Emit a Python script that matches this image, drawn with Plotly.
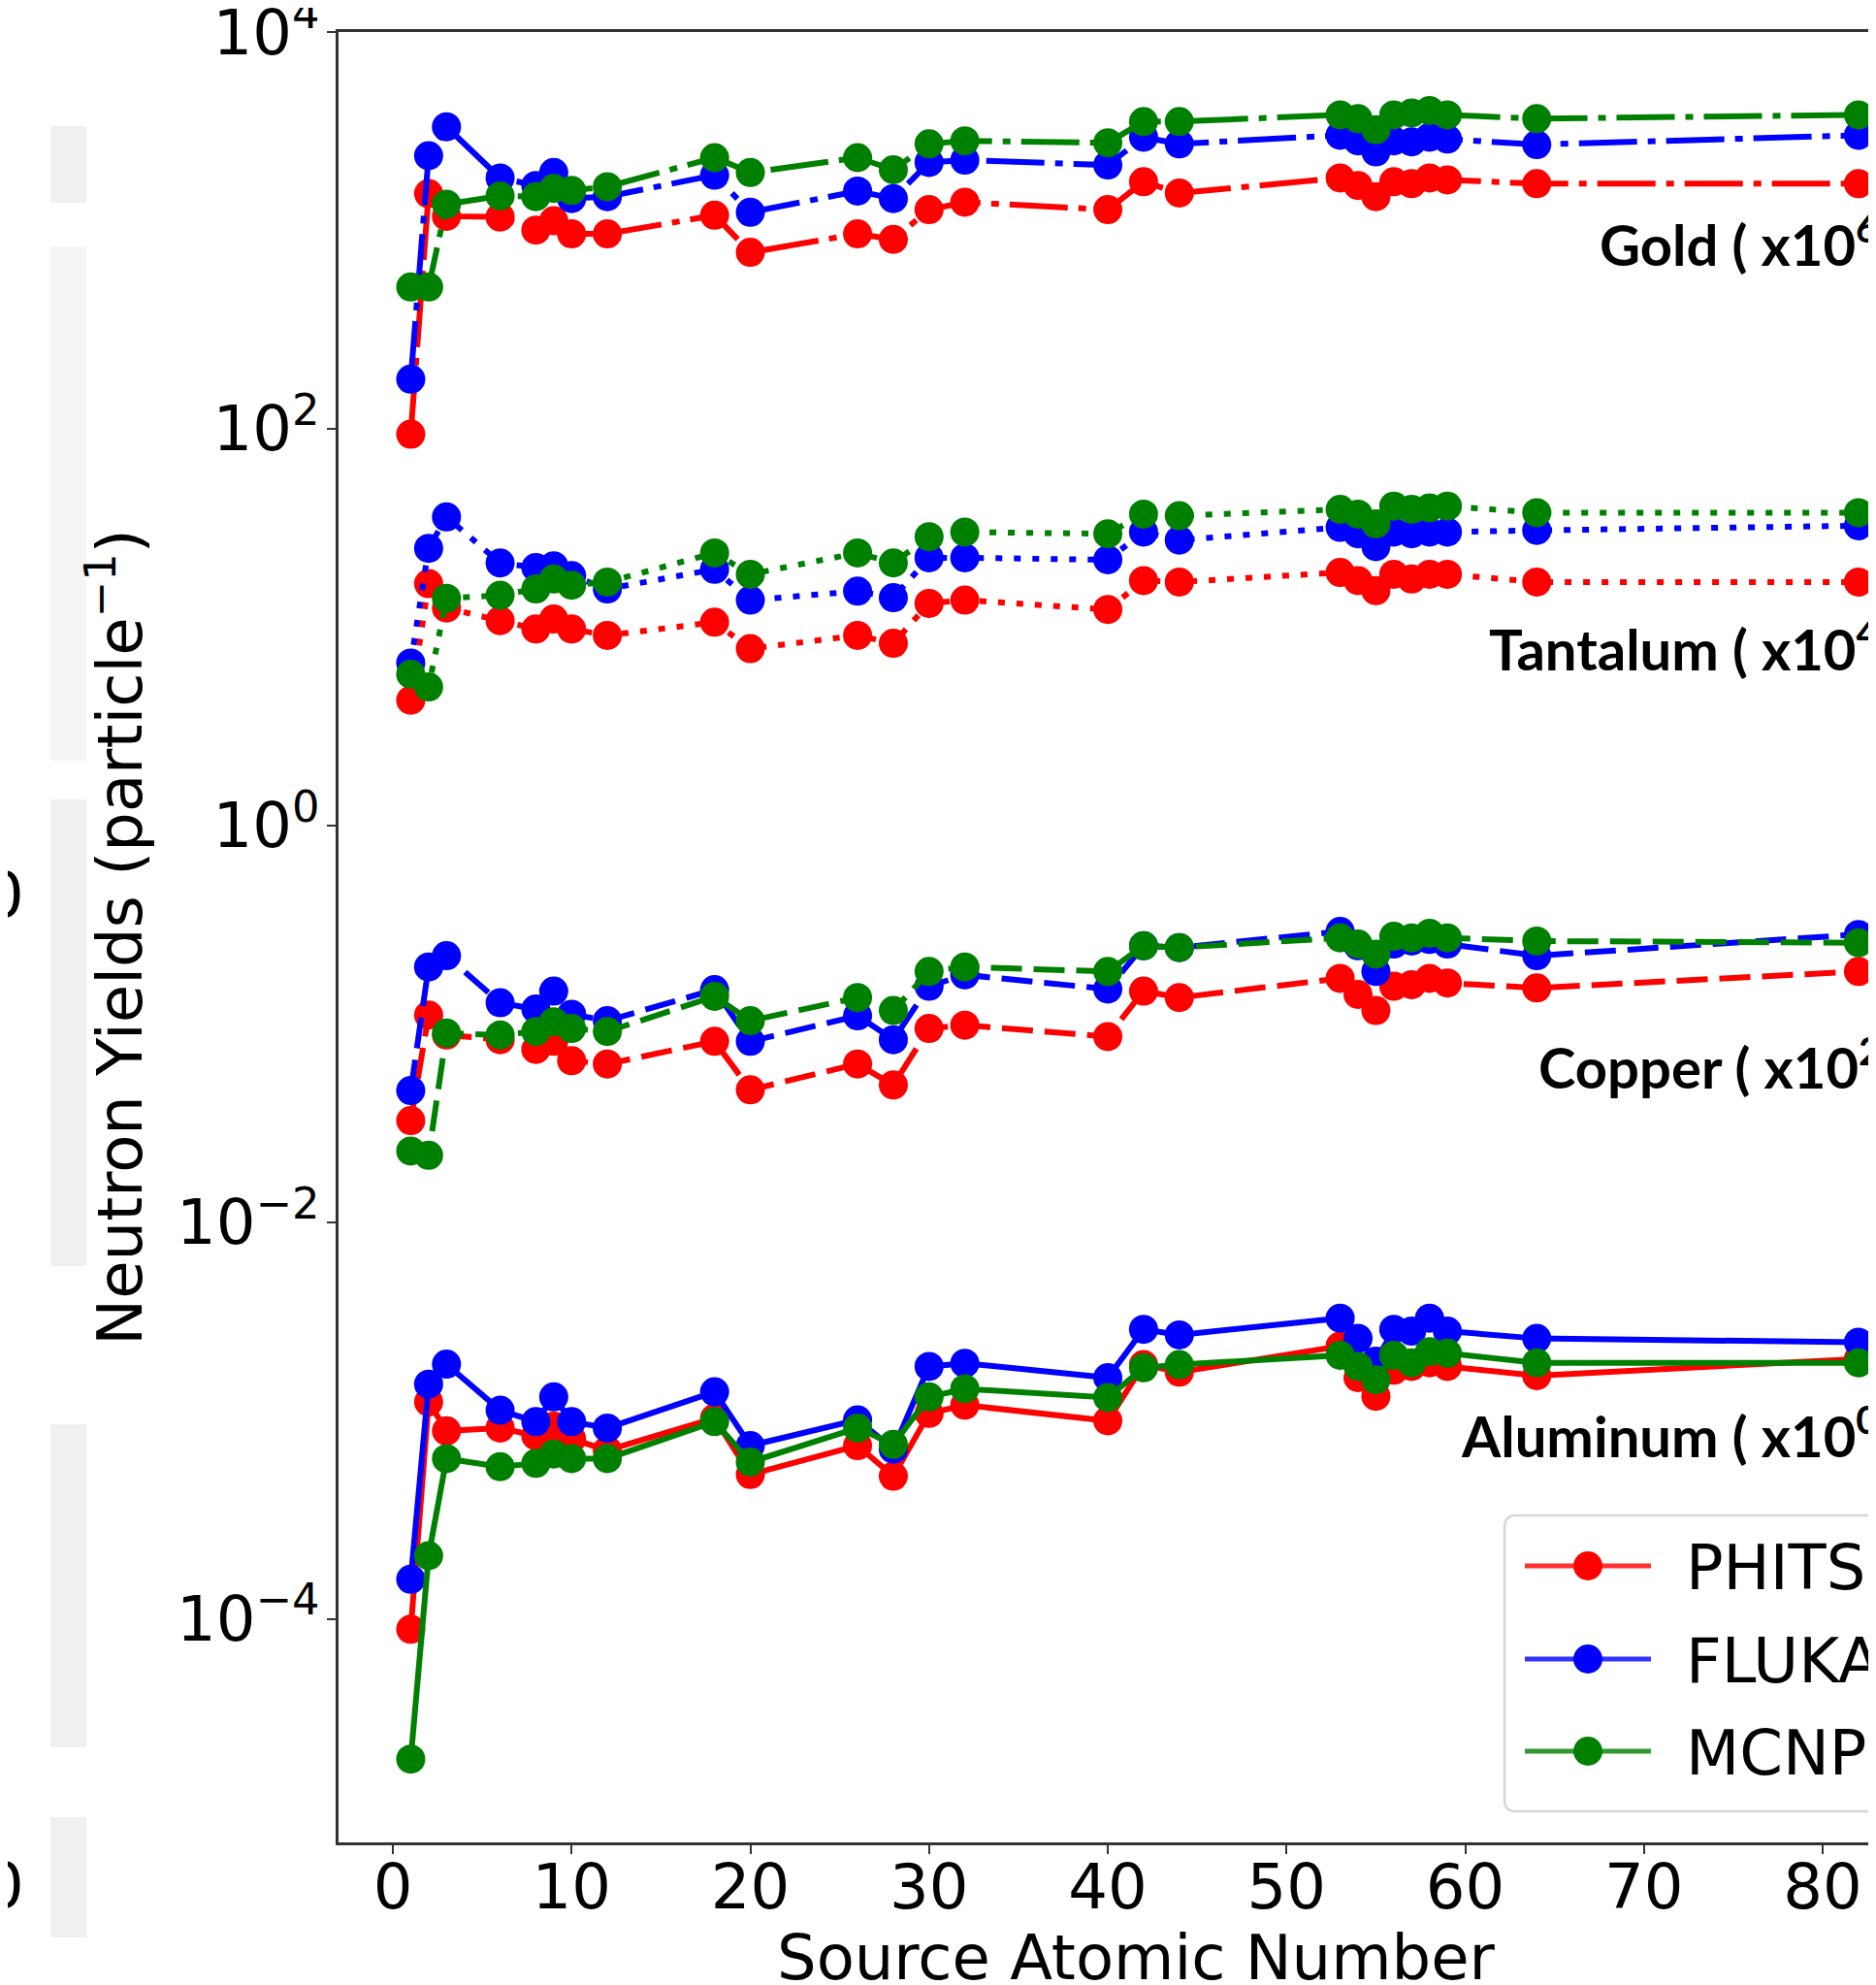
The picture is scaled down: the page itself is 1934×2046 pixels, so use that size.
import plotly.graph_objects as go

# ---------------- data (values as plotted, already scaled per material) ----------------
Z = [1, 2, 3, 6, 8, 9, 10, 12, 18, 20, 26, 28, 30, 32, 40, 42, 44, 53, 54, 55, 56, 57, 58, 59, 64, 82]

gold_phits = [94, 1535, 1180, 1170, 1005, 1119, 962, 962, 1194, 776, 962, 902, 1274, 1388, 1274, 1761, 1546,
              1840, 1687, 1482, 1761, 1722, 1840, 1800, 1722, 1722]
gold_fluka = [178, 2382, 3334, 1840, 1687, 1960, 1449, 1482, 1900, 1236, 1580, 1449, 2203, 2263, 2138, 2951, 2733,
              3020, 2831, 2489, 2831, 2800, 2951, 2890, 2710, 3020]
gold_mcnp = [519, 519, 1358, 1494, 1482, 1629, 1592, 1663, 2329, 1960, 2329, 2023, 2733, 2831, 2768, 3540, 3540,
             3827, 3664, 3222, 3827, 3910, 4027, 3827, 3664, 3827]

tantalum_phits = [4.29, 16.6, 12.5, 10.8, 9.8, 11.0, 9.8, 9.1, 10.6, 7.8, 9.1, 8.3, 13.2, 13.7, 12.3, 17.2, 16.9,
                  18.9, 17.2, 15.3, 18.5, 17.5, 18.5, 18.5, 16.9, 16.9]
tantalum_fluka = [6.6, 25.0, 36.0, 21.1, 20.0, 20.4, 18.2, 15.6, 19.6, 13.7, 15.2, 14.1, 22.4, 22.4, 21.9, 30.2, 27.5,
                  31.9, 29.6, 25.5, 30.2, 29.6, 30.2, 30.2, 30.8, 32.5]
tantalum_mcnp = [5.8, 5.0, 14.0, 14.5, 15.6, 17.5, 16.3, 16.9, 23.7, 18.5, 23.7, 21.1, 28.6, 30.2, 29.6, 37.2, 36.5,
                 39.3, 37.2, 33.2, 40.8, 39.3, 40.0, 40.8, 37.8, 37.8]

copper_phits = [0.0326, 0.111, 0.088, 0.0834, 0.0745, 0.0818, 0.0653, 0.0629, 0.0818, 0.0466, 0.0629, 0.0493, 0.095,
                0.0987, 0.0865, 0.1466, 0.136, 0.170, 0.141, 0.117, 0.155, 0.158, 0.170, 0.161, 0.152, 0.184]
copper_fluka = [0.0462, 0.194, 0.221, 0.128, 0.119, 0.1466, 0.112, 0.104, 0.149, 0.0818, 0.110, 0.0834, 0.155,
                0.177, 0.150, 0.248, 0.243, 0.293, 0.248, 0.184, 0.253, 0.262, 0.267, 0.253, 0.221, 0.283]
copper_mcnp = [0.0229, 0.0218, 0.090, 0.088, 0.0917, 0.1026, 0.095, 0.0917, 0.138, 0.104, 0.136, 0.117, 0.184,
               0.194, 0.184, 0.248, 0.243, 0.272, 0.253, 0.225, 0.277, 0.272, 0.287, 0.272, 0.262, 0.257]

aluminum_phits = [8.9e-5, 1.245e-3, 8.9e-4, 9.2e-4, 8.4e-4, 9.4e-4, 8.1e-4, 7.1e-4, 1.03e-3, 5.36e-4, 7.5e-4,
                  5.26e-4, 1.09e-3, 1.2e-3, 1.0e-3, 1.92e-3, 1.76e-3, 2.38e-3, 1.65e-3, 1.33e-3, 1.80e-3, 1.88e-3,
                  1.96e-3, 1.88e-3, 1.69e-3, 2.05e-3]
aluminum_fluka = [1.59e-4, 1.53e-3, 1.93e-3, 1.13e-3, 9.9e-4, 1.32e-3, 9.9e-4, 9.2e-4, 1.40e-3, 7.5e-4, 1.01e-3,
                  7.2e-4, 1.88e-3, 1.95e-3, 1.65e-3, 2.89e-3, 2.71e-3, 3.29e-3, 2.6e-3, 2.0e-3, 2.89e-3, 2.83e-3,
                  3.29e-3, 2.83e-3, 2.6e-3, 2.49e-3]
aluminum_mcnp = [1.97e-5, 2.09e-4, 6.45e-4, 5.87e-4, 6.1e-4, 6.8e-4, 6.45e-4, 6.45e-4, 9.9e-4, 6.2e-4, 9.2e-4,
                 7.6e-4, 1.32e-3, 1.45e-3, 1.31e-3, 1.85e-3, 1.92e-3, 2.14e-3, 1.88e-3, 1.61e-3, 2.14e-3, 1.96e-3,
                 2.23e-3, 2.19e-3, 1.96e-3, 1.96e-3]

codes = ["PHITS", "FLUKA", "MCNP"]
materials = ["Gold", "Tantalum", "Copper", "Aluminum"]
material_labels = ["Gold ( x10<sup>6</sup> )", "Tantalum ( x10<sup>4</sup> )",
                   "Copper ( x10<sup>2</sup> )", "Aluminum ( x10<sup>0</sup> )"]
series = {
    "Gold": [gold_phits, gold_fluka, gold_mcnp],
    "Tantalum": [tantalum_phits, tantalum_fluka, tantalum_mcnp],
    "Copper": [copper_phits, copper_fluka, copper_mcnp],
    "Aluminum": [aluminum_phits, aluminum_fluka, aluminum_mcnp],
}
x_ticks = [0, 10, 20, 30, 40, 50, 60, 70, 80]
y_ticks = [1e-4, 1e-2, 1e0, 1e2, 1e4]
y_ticktext = ["10<sup>\u22124</sup>", "10<sup>\u22122</sup>", "10<sup>0</sup>", "10<sup>2</sup>", "10<sup>4</sup>"]
x_title = "Source Atomic Number"
y_title = "Neutron Yields (particle<sup>\u22121</sup>)"

# ---------------- styles ----------------
colors = {"PHITS": "#ff0000", "FLUKA": "#0000ff", "MCNP": "#008000"}
dashes = {"Gold": "60px,11px,8px,11px", "Tantalum": "7px,12px", "Copper": "32px,12px", "Aluminum": "solid"}

# page is 1934 x 2046; the html body adds an 8 px margin, so the figure is 8 px smaller
PAGE_OFF = 8
W, H = 1934 - PAGE_OFF, 2046 - PAGE_OFF
PLOT_L, PLOT_T, PLOT_B = 349, 33, 1899          # page coordinates of the plot area
L, T = PLOT_L - PAGE_OFF, PLOT_T - PAGE_OFF
B = H - (PLOT_B - PAGE_OFF)
R = 0
PW, PH = W - L - R, H - T - B


def px(xp):
    return (xp - PLOT_L) / PW


def py(yp):
    return (PLOT_B - yp) / PH


FONT = "DejaVu Sans"
fig = go.Figure()

for m in materials:
    for code, vals in zip(codes, series[m]):
        fig.add_trace(go.Scatter(
            x=Z, y=vals, mode="lines+markers", name=code, legendgroup=code,
            showlegend=False,
            line=dict(color=colors[code], width=6, dash=dashes[m]),
            marker=dict(color=colors[code], size=30, line=dict(width=0)),
        ))

annotations = []
label_pos = {"Gold": (1647, 248), "Tantalum": (1533, 665), "Copper": (1584, 1096), "Aluminum": (1504, 1476)}
for m, lab in zip(materials, material_labels):
    xp, yp = label_pos[m]
    annotations.append(dict(
        text=lab, xref="paper", yref="paper", x=px(xp), y=py(yp), xanchor="left", yanchor="middle",
        showarrow=False, font=dict(family="Lato", size=58, color="black", weight="bold"),
    ))

# x-axis title (placed precisely; the original is centred on the uncropped figure)
annotations.append(dict(text=x_title, xref="paper", yref="paper", x=px(1171), y=py(2018),
                        xanchor="center", yanchor="middle", showarrow=False,
                        font=dict(family=FONT, size=64, color="black")))

# ---------------- legend (drawn) ----------------
shapes = []
lx0, lx1, ly0, ly1, rad = 1551, 2000, 1562, 1867, 12
path = (f"M {px(lx0 + rad)},{py(ly0)} L {px(lx1)},{py(ly0)} L {px(lx1)},{py(ly1)} "
        f"L {px(lx0 + rad)},{py(ly1)} Q {px(lx0)},{py(ly1)} {px(lx0)},{py(ly1 - rad)} "
        f"L {px(lx0)},{py(ly0 + rad)} Q {px(lx0)},{py(ly0)} {px(lx0 + rad)},{py(ly0)} Z")
shapes.append(dict(type="path", path=path, xref="paper", yref="paper", layer="above",
                   fillcolor="rgba(255,255,255,0.85)", line=dict(color="#d6d6d6", width=2.5)))
rows = [1614, 1710, 1805]
for code, ry in zip(codes, rows):
    shapes.append(dict(type="line", xref="paper", yref="paper", layer="above",
                       x0=px(1572), x1=px(1702), y0=py(ry), y1=py(ry),
                       line=dict(color=colors[code], width=5), opacity=0.8))
    shapes.append(dict(type="circle", xref="paper", yref="paper", layer="above",
                       xsizemode="pixel", ysizemode="pixel", xanchor=px(1637), yanchor=py(ry),
                       x0=-15, x1=15, y0=-15, y1=15, fillcolor=colors[code], line=dict(width=0)))
    annotations.append(dict(text=code, xref="paper", yref="paper", x=px(1736), y=py(ry + 2),
                            xanchor="left", yanchor="middle", showarrow=False,
                            font=dict(family=FONT, size=64, color="black")))

# ---------------- faint artifacts at the left edge of the picture ----------------
for (y0, y1, c) in [(130, 209, "#f0f0f0"), (254, 784, "#f5f5f5"), (824, 1305, "#f0f0f0"),
                    (1468, 1801, "#f0f0f0"), (1873, 1997, "#f0f0f0")]:
    shapes.append(dict(type="rect", xref="paper", yref="paper", layer="below",
                       x0=px(52), x1=px(89), y0=py(y1), y1=py(y0), fillcolor=c, line=dict(width=0)))
for yp in [923, 1944]:
    annotations.append(dict(text="0", xref="paper", yref="paper", x=px(4), y=py(yp),
                            xanchor="center", yanchor="middle", showarrow=False,
                            font=dict(family=FONT, size=64, color="black")))

axis_col = "#333333"
fig.update_layout(
    width=W, height=H,
    margin=dict(l=L, r=R, t=T, b=B, autoexpand=False, pad=0),
    paper_bgcolor="white", plot_bgcolor="white",
    font=dict(family=FONT, size=64, color="black"),
    showlegend=False,
    annotations=annotations, shapes=shapes,
    xaxis=dict(
        range=[-3.04, 82.98], tickvals=x_ticks, ticks="outside", ticklen=9, tickwidth=2,
        tickcolor=axis_col, showline=True, linecolor=axis_col, linewidth=2.5, mirror=True,
        showgrid=False, zeroline=False, automargin=False, ticklabelstandoff=-21,
        ticklabeloverflow="allow",
        tickfont=dict(family=FONT, size=64, color="black"),
    ),
    yaxis=dict(
        type="log", range=[-5.125, 4.0005], tickvals=y_ticks, ticktext=y_ticktext, ticks="outside",
        ticklen=9, tickwidth=2, tickcolor=axis_col, showline=True, linecolor=axis_col, linewidth=2.5,
        mirror=False, showgrid=False, zeroline=False, automargin=False, ticklabelstandoff=-5,
        ticklabeloverflow="allow",
        tickfont=dict(family=FONT, size=64, color="black"),
        title=dict(text=y_title, font=dict(family=FONT, size=64, color="black")),
    ),
)

fig.write_html("out.html")
